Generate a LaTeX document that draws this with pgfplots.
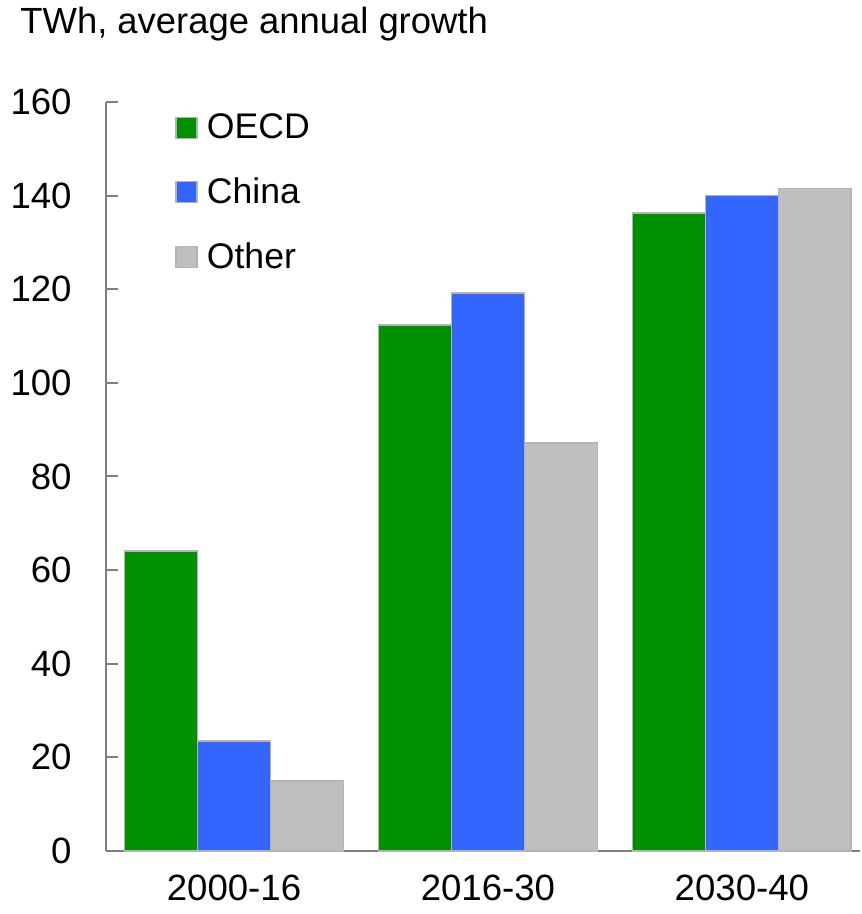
\documentclass[border=0pt]{standalone}
\usepackage{pgfplots}
\pgfplotsset{compat=1.18}
\usepackage{fontspec}
\setmainfont{Liberation Sans}
\definecolor{oecd}{HTML}{009100}
\definecolor{china}{HTML}{3366FF}
\definecolor{other}{HTML}{BFBFBF}
\definecolor{edge}{HTML}{B4B4B4}
\definecolor{axisgray}{HTML}{7F7F7F}
\begin{document}
\begin{tikzpicture}
\begin{axis}[
  scale only axis,
  width=377pt, height=374.5pt,
  xmin=-0.504, xmax=2.465,
  ymin=0, ymax=160,
  ytick={0,20,...,160},
  xtick={0,1,2},
  xticklabels={2000-16,2016-30,2030-40},
  major x tick style={draw=none},
  axis lines*=left,
  axis line style={axisgray, line width=1pt},
  y axis line style={-}, x axis line style={-},
  ytick style={axisgray, line width=1pt},
  major tick length=6pt,
  tick align=inside,
  /pgf/number format/assume math mode=true,
  tick label style={font=\fontsize{18.3}{22}\selectfont},
  yticklabel style={inner sep=0pt, xshift=-17pt},
  xticklabel style={inner sep=0pt, yshift=-12pt, anchor=north},
  clip=false,
  legend style={draw=none, fill=none, at={(rel axis cs:0.0915,0.99)}, anchor=north west,
    font=\fontsize{17.8}{21}\selectfont, row sep=14pt, inner sep=0pt,
    /tikz/every odd column/.append style={column sep=2.5pt}},
  legend cell align=left,
  legend image code/.code={\draw[#1, line width=0.75pt] (0pt,-5.25pt) rectangle (10.5pt,5.25pt);},
]
\addplot[ybar, bar width=0.287, bar shift=-0.287, fill=oecd, draw=edge, line width=0.75pt]
  coordinates {(0,64.1) (1,112.4) (2,136.3)};
\addlegendentry{OECD}
\addplot[ybar, bar width=0.287, bar shift=0, fill=china, draw=edge, line width=0.75pt]
  coordinates {(0,23.5) (1,119.2) (2,140.0)};
\addlegendentry{China}
\addplot[ybar, bar width=0.287, bar shift=0.287, fill=other, draw=edge, line width=0.75pt]
  coordinates {(0,15.0) (1,87.2) (2,141.5)};
\addlegendentry{Other}
\node[anchor=base west, inner sep=0pt, font=\fontsize{18.2}{22}\selectfont]
  at (rel axis cs:-0.114,1.0921) {TWh, average annual growth};
\coordinate (bbbl) at (rel axis cs:-0.14058,-0.08411);
\coordinate (bbtr) at (rel axis cs:1.00265,1.13618);
\end{axis}
\pgfresetboundingbox
\useasboundingbox (bbbl) rectangle (bbtr);
\end{tikzpicture}
\end{document}
